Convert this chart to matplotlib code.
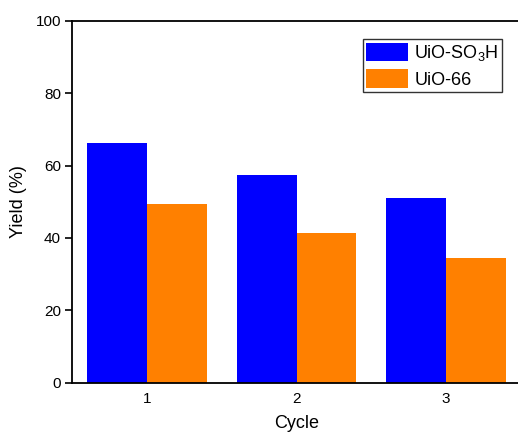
import matplotlib
matplotlib.use("Agg")
import matplotlib.pyplot as plt
import numpy as np

plt.rcParams['font.family'] = ['Liberation Sans', 'DejaVu Sans']
plt.rcParams['mathtext.fontset'] = 'custom'
plt.rcParams['mathtext.rm'] = 'Liberation Sans'

cycles = ["1", "2", "3"]
uio_so3h = [66.1, 57.4, 50.9]
uio_66 = [49.4, 41.3, 34.4]
series_names = ["UiO-SO$_\\mathregular{3}$H", "UiO-66"]
colors = ["#0000FF", "#FF8000"]

W, H = 518, 433
fig = plt.figure(figsize=(W/100, H/100), dpi=100)
ax = fig.add_axes([72/W, 1-382.7/H, (521-72)/W, (382.7-20.7)/H])

x = np.arange(1, len(cycles)+1)
w = 0.4
ax.bar(x - w/2, uio_so3h, width=w, color=colors[0], label=series_names[0])
ax.bar(x + w/2, uio_66, width=w, color=colors[1], label=series_names[1])

ax.set_xlim(0.5, 3.5)
ax.set_ylim(0, 100)
ax.set_xticks(x)
ax.set_xticklabels(cycles)
ax.set_yticks([0, 20, 40, 60, 80, 100])
ax.tick_params(axis='y', direction='out', length=5, width=1.2, labelsize=11, pad=3)
ax.tick_params(axis='x', length=0, labelsize=11, pad=6.5)
for s in ax.spines.values():
    s.set_linewidth(1.3)
ax.spines['right'].set_visible(False)

ax.set_xlabel("Cycle", fontsize=13, labelpad=6.5)
ax.set_ylabel("Yield (%)", fontsize=13, labelpad=6)

leg = ax.legend(loc='upper right', bbox_to_anchor=((502-72)/(521-72), (382.7-39)/(382.7-20.7)),
                fontsize=13, frameon=True, fancybox=False, edgecolor='black',
                handlelength=2.3, handleheight=1.2, handletextpad=0.35,
                borderpad=0.2, borderaxespad=0, labelspacing=0.35)
leg.get_frame().set_linewidth(1.0)

fig.savefig("out.png", dpi=100)
